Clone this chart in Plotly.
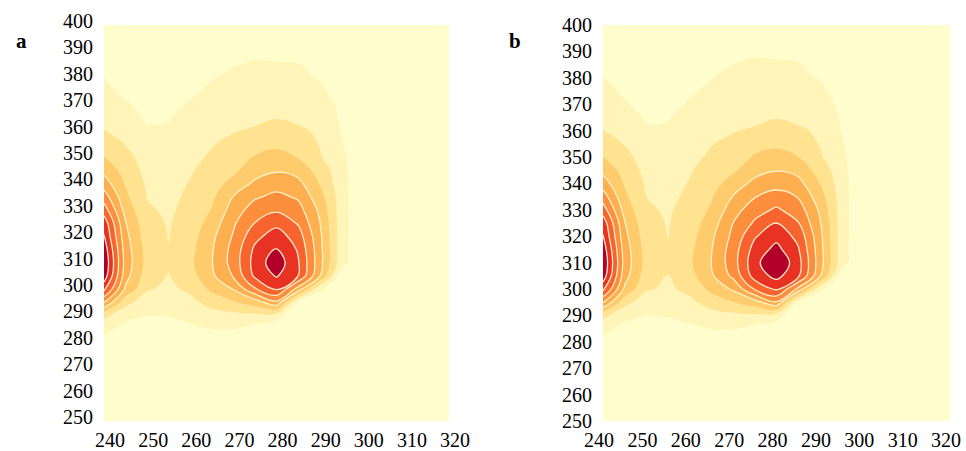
import plotly.graph_objects as go

# Excitation (x) and emission (y) wavelengths of the grid
excitation = [240, 245, 250, 255, 260, 265, 270, 275, 280, 285, 290, 295, 300, 305, 310, 315, 320]
emission = [400, 395, 390, 385, 380, 375, 370, 365, 360, 355, 350, 345, 340, 335, 330, 325,
            320, 315, 310, 305, 300, 295, 290, 285, 280, 275, 270, 265, 260, 255, 250]

x_ticks = [240, 250, 260, 270, 280, 290, 300, 310, 320]
y_ticks = [250, 260, 270, 280, 290, 300, 310, 320, 330, 340, 350, 360, 370, 380, 390, 400]

# Intensity (contour-level units), one list per excitation column, emission 400 -> 250
intensity_a = [
    [0, 0, 0, 0.5, 1.02, 1.25, 1.5, 1.75, 2.02, 2.5, 3.02, 3.7, 4.5, 5.5, 6.5, 7.6, 8.05, 8.6, 8.9, 8.6, 7.3, 5.1, 2.3, 1.3, 0.7, 0.1, 0, 0, 0, 0, 0],
    [0, 0, 0, 0.2, 0.5, 0.8, 1.1, 1.4, 1.65, 1.95, 2.3, 2.6, 2.9, 3.2, 3.6, 4.05, 4.3, 4.5, 4.6, 4.4, 3.8, 2.3, 1.3, 0.7, 0.3, 0, 0, 0, 0, 0, 0],
    [0, 0, 0, 0, 0.3, 0.5, 0.7, 0.88, 1.1, 1.35, 1.55, 1.7, 1.85, 1.97, 2.1, 2.3, 2.45, 2.6, 2.65, 2.45, 2.1, 1.5, 1.02, 0.5, 0.2, 0, 0, 0, 0, 0, 0],
    [0, 0, 0, 0, 0.3, 0.5, 0.7, 0.95, 1.1, 1.3, 1.45, 1.6, 1.7, 1.8, 1.87, 1.93, 1.97, 2.02, 2.08, 1.95, 1.8, 1.5, 1.05, 0.5, 0.2, 0, 0, 0, 0, 0, 0],
    [0, 0, 0, 0.2, 0.5, 0.8, 1.1, 1.3, 1.5, 1.65, 1.8, 1.92, 2.05, 2.15, 2.25, 2.4, 2.55, 2.7, 2.8, 2.6, 2.2, 1.7, 1.3, 0.8, 0.3, 0, 0, 0, 0, 0, 0],
    [0, 0, 0.3, 0.6, 0.95, 1.2, 1.45, 1.65, 1.85, 1.95, 2.1, 2.35, 2.6, 2.8, 3.05, 3.4, 3.75, 3.9, 3.95, 3.8, 3.2, 2.4, 1.6, 1.02, 0.4, 0, 0, 0, 0, 0, 0],
    [0, 0, 0.6, 0.95, 1.2, 1.4, 1.6, 1.75, 1.95, 2.2, 2.5, 2.8, 3.3, 4.02, 4.45, 4.85, 5.1, 5.35, 5.4, 5.1, 4.05, 2.9, 1.7, 1.05, 0.4, 0, 0, 0, 0, 0, 0],
    [0, 0, 0.8, 1.1, 1.3, 1.5, 1.7, 1.8, 2.1, 2.7, 3.05, 3.5, 4.2, 4.85, 5.5, 6.02, 6.7, 7.2, 7.4, 7.2, 5.9, 3.5, 1.8, 0.6, 0, 0, 0, 0, 0, 0, 0],
    [0, 0, 0.6, 1.1, 1.3, 1.5, 1.75, 1.95, 2.35, 2.8, 3.3, 3.9, 4.55, 5.25, 5.85, 6.7, 7.5, 8.05, 8.6, 8.1, 7.1, 4.8, 1.5, 0.2, 0, 0, 0, 0, 0, 0, 0],
    [0, 0, 0.6, 1.05, 1.3, 1.5, 1.7, 1.85, 2.1, 2.5, 2.95, 3.6, 4.3, 4.85, 5.4, 5.9, 6.5, 6.9, 7.1, 7.0, 4.6, 0.8, 0, 0, 0, 0, 0, 0, 0, 0, 0],
    [0, 0, 0, 0.4, 0.9, 1.3, 1.6, 1.8, 1.9, 1.95, 2.1, 2.6, 2.95, 3.4, 3.8, 4.05, 4.25, 4.35, 4.4, 4.1, 1.2, 0, 0, 0, 0, 0, 0, 0, 0, 0, 0],
    [0, 0, 0, 0, 0, 0.3, 0.7, 0.85, 0.95, 1.1, 1.3, 1.4, 1.45, 1.5, 1.5, 1.5, 1.5, 1.45, 1.4, 0.4, 0, 0, 0, 0, 0, 0, 0, 0, 0, 0, 0],
    [0, 0, 0, 0, 0, 0, 0, 0, 0, 0, 0, 0, 0, 0, 0, 0, 0, 0, 0, 0, 0, 0, 0, 0, 0, 0, 0, 0, 0, 0, 0],
    [0, 0, 0, 0, 0, 0, 0, 0, 0, 0, 0, 0, 0, 0, 0, 0, 0, 0, 0, 0, 0, 0, 0, 0, 0, 0, 0, 0, 0, 0, 0],
    [0, 0, 0, 0, 0, 0, 0, 0, 0, 0, 0, 0, 0, 0, 0, 0, 0, 0, 0, 0, 0, 0, 0, 0, 0, 0, 0, 0, 0, 0, 0],
    [0, 0, 0, 0, 0, 0, 0, 0, 0, 0, 0, 0, 0, 0, 0, 0, 0, 0, 0, 0, 0, 0, 0, 0, 0, 0, 0, 0, 0, 0, 0],
    [0, 0, 0, 0, 0, 0, 0, 0, 0, 0, 0, 0, 0, 0, 0, 0, 0, 0, 0, 0, 0, 0, 0, 0, 0, 0, 0, 0, 0, 0, 0],
]

intensity_b = [
    [0, 0, 0, 0.55, 1.05, 1.3, 1.5, 1.75, 2.02, 2.5, 3.02, 3.7, 4.5, 5.5, 6.5, 7.6, 8.05, 8.6, 8.9, 8.6, 7.3, 5.1, 2.3, 1.3, 0.7, 0.1, 0, 0, 0, 0, 0],
    [0, 0, 0, 0.2, 0.55, 0.85, 1.1, 1.4, 1.65, 1.95, 2.3, 2.6, 2.9, 3.2, 3.6, 4.05, 4.3, 4.5, 4.6, 4.4, 3.8, 2.3, 1.3, 0.7, 0.3, 0, 0, 0, 0, 0, 0],
    [0, 0, 0, 0, 0.3, 0.5, 0.7, 0.9, 1.1, 1.35, 1.55, 1.72, 1.88, 2.0, 2.12, 2.3, 2.45, 2.6, 2.65, 2.45, 2.1, 1.5, 1.02, 0.5, 0.2, 0, 0, 0, 0, 0, 0],
    [0, 0, 0, 0, 0.3, 0.5, 0.7, 0.95, 1.1, 1.3, 1.45, 1.6, 1.72, 1.82, 1.9, 1.95, 1.98, 2.06, 2.12, 1.99, 1.85, 1.55, 1.08, 0.5, 0.2, 0, 0, 0, 0, 0, 0],
    [0, 0, 0, 0.25, 0.55, 0.85, 1.1, 1.3, 1.5, 1.65, 1.8, 1.92, 2.05, 2.15, 2.3, 2.45, 2.6, 2.75, 2.85, 2.65, 2.25, 1.75, 1.3, 0.8, 0.3, 0, 0, 0, 0, 0, 0],
    [0, 0, 0.35, 0.65, 0.98, 1.2, 1.45, 1.65, 1.85, 1.97, 2.12, 2.4, 2.65, 2.9, 3.15, 3.5, 3.8, 3.95, 4.02, 3.85, 3.25, 2.45, 1.6, 1.02, 0.4, 0, 0, 0, 0, 0, 0],
    [0, 0, 0.65, 1.0, 1.2, 1.4, 1.6, 1.75, 1.95, 2.2, 2.5, 2.85, 3.4, 4.05, 4.55, 5.0, 5.25, 5.5, 5.55, 5.25, 4.15, 2.95, 1.75, 1.05, 0.4, 0, 0, 0, 0, 0, 0],
    [0, 0, 0.85, 1.15, 1.35, 1.5, 1.7, 1.8, 2.1, 2.7, 3.1, 3.6, 4.3, 4.95, 5.6, 6.15, 6.9, 7.4, 7.7, 7.45, 6.1, 3.6, 1.8, 0.6, 0, 0, 0, 0, 0, 0, 0],
    [0, 0, 0.75, 1.15, 1.35, 1.55, 1.75, 1.95, 2.35, 2.8, 3.35, 3.95, 4.6, 5.4, 6.15, 7.02, 7.7, 8.3, 8.9, 8.3, 7.2, 4.9, 1.5, 0.2, 0, 0, 0, 0, 0, 0, 0],
    [0, 0, 0.65, 1.1, 1.3, 1.5, 1.7, 1.85, 2.1, 2.5, 3.0, 3.65, 4.35, 4.95, 5.5, 6.05, 6.7, 7.1, 7.4, 7.2, 4.7, 0.8, 0, 0, 0, 0, 0, 0, 0, 0, 0],
    [0, 0, 0, 0.45, 0.92, 1.3, 1.6, 1.8, 1.9, 1.95, 2.12, 2.6, 2.98, 3.45, 3.85, 4.1, 4.3, 4.4, 4.45, 4.15, 1.25, 0, 0, 0, 0, 0, 0, 0, 0, 0, 0],
    [0, 0, 0, 0, 0, 0.3, 0.7, 0.85, 0.97, 1.12, 1.3, 1.4, 1.48, 1.52, 1.52, 1.52, 1.52, 1.48, 1.45, 0.45, 0, 0, 0, 0, 0, 0, 0, 0, 0, 0, 0],
    [0, 0, 0, 0, 0, 0, 0, 0, 0, 0, 0, 0, 0, 0, 0, 0, 0, 0, 0, 0, 0, 0, 0, 0, 0, 0, 0, 0, 0, 0, 0],
    [0, 0, 0, 0, 0, 0, 0, 0, 0, 0, 0, 0, 0, 0, 0, 0, 0, 0, 0, 0, 0, 0, 0, 0, 0, 0, 0, 0, 0, 0, 0],
    [0, 0, 0, 0, 0, 0, 0, 0, 0, 0, 0, 0, 0, 0, 0, 0, 0, 0, 0, 0, 0, 0, 0, 0, 0, 0, 0, 0, 0, 0, 0],
    [0, 0, 0, 0, 0, 0, 0, 0, 0, 0, 0, 0, 0, 0, 0, 0, 0, 0, 0, 0, 0, 0, 0, 0, 0, 0, 0, 0, 0, 0, 0],
    [0, 0, 0, 0, 0, 0, 0, 0, 0, 0, 0, 0, 0, 0, 0, 0, 0, 0, 0, 0, 0, 0, 0, 0, 0, 0, 0, 0, 0, 0, 0],
]

band_colors = ['#fffdcc', '#ffeda5', '#fed97c', '#febf5b', '#fd9f45',
               '#fc7c35', '#f44b29', '#dc1b1f', '#b3002a']

# Colour map: contour bands take the colour at level + 0.5 (domain 0..8)
n_lev = 8
colorscale = [[0.0, band_colors[0]]]
for k in range(n_lev):
    colorscale.append([(k + 0.5) / n_lev, band_colors[k]])
colorscale.append([1.0, band_colors[n_lev]])

BG = band_colors[0]
FONT = "Liberation Serif"
SMOOTH = 1.1

fig = go.Figure()
for i, z in enumerate([intensity_a, intensity_b]):
    xa = 'x' if i == 0 else 'x2'
    ya = 'y' if i == 0 else 'y2'
    fig.add_trace(go.Contour(
        x=excitation, y=emission, z=z, transpose=True,
        xaxis=xa, yaxis=ya,
        colorscale=colorscale, showscale=False,
        contours=dict(start=1, end=8, size=1, coloring='fill', showlines=False),
        line=dict(width=0, smoothing=SMOOTH),
        hoverinfo='skip',
    ))
    fig.add_trace(go.Contour(
        x=excitation, y=emission, z=z, transpose=True,
        xaxis=xa, yaxis=ya,
        showscale=False,
        contours=dict(start=4, end=8, size=1, coloring='none'),
        line=dict(width=1.3, color='rgba(255,244,205,0.95)', smoothing=SMOOTH),
        hoverinfo='skip',
    ))

W, H = 966, 451
ydom = [1 - 421 / H, 1 - 25 / H]
axis_font = dict(family=FONT, size=20, color='black')

common_x = dict(range=[240, 320], tickvals=x_ticks, showgrid=False, zeroline=False,
                showline=False, tickfont=axis_font, automargin=False, ticks='',
                ticklabelstandoff=5)
common_y = dict(range=[250, 400], tickvals=y_ticks, showgrid=False, zeroline=False,
                showline=False, tickfont=axis_font, automargin=False, ticks='',
                ticklabelstandoff=10)

fig.update_layout(
    width=W, height=H,
    margin=dict(l=0, r=0, t=0, b=0),
    paper_bgcolor='white', plot_bgcolor=BG,
    showlegend=False,
    xaxis=dict(common_x, domain=[104 / W, 449 / W], anchor='y', ticklabelshift=6),
    yaxis=dict(common_y, domain=ydom, anchor='x', ticklabelshift=-4),
    xaxis2=dict(common_x, domain=[603 / W, 950 / W], anchor='y2', ticklabelshift=-4),
    yaxis2=dict(common_y, domain=ydom, anchor='x2'),
    annotations=[
        dict(text='<b>a</b>', x=14 / W, y=1 - 27 / H, xref='paper', yref='paper',
             showarrow=False, font=dict(family=FONT, size=21, color='black')),
        dict(text='<b>b</b>', x=515 / W, y=1 - 27 / H, xref='paper', yref='paper',
             showarrow=False, font=dict(family=FONT, size=21, color='black')),
    ],
)

fig.write_html("out.html")
